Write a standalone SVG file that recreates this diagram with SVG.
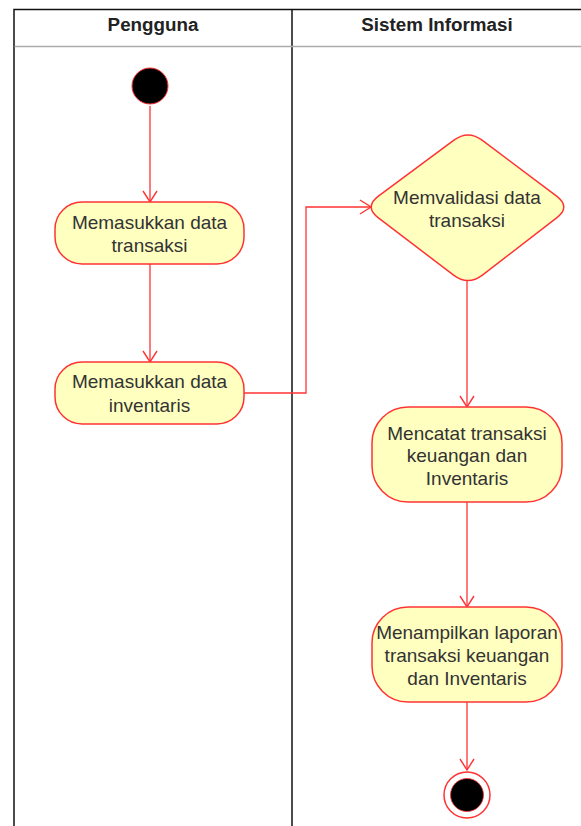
<svg xmlns="http://www.w3.org/2000/svg" width="581" height="826" viewBox="0 0 581 826">
  <style>
    .lane { fill: none; stroke: #111; stroke-width: 1.5; }
    .hdr-line { stroke: #aaa; stroke-width: 1.5; }
    .hdr { font-family: "Liberation Sans", Arial, sans-serif; font-size: 18.8px; font-weight: bold; fill: #222; text-anchor: middle; }
    .act { fill: #ffffc0; stroke: #ff3333; stroke-width: 1.5; }
    .lbl { font-family: "Liberation Sans", Arial, sans-serif; font-size: 19px; fill: #333; text-anchor: middle; }
    .edge { fill: none; stroke: #ff3333; stroke-width: 1.3; }
  </style>
  <defs>
    <marker id="open" markerUnits="userSpaceOnUse" markerWidth="16" markerHeight="18" refX="12" refY="8" orient="auto" viewBox="0 0 16 18">
      <path d="M1,1 L12,8 L1,15" fill="none" stroke="#ff3333" stroke-width="1.4"/>
    </marker>
  </defs>
  <rect width="581" height="826" fill="#ffffff"/>

  <g id="pool">
    <path class="lane" d="M14,830 L14,9.5 L585,9.5"/>
    <line class="lane" x1="292" y1="9.5" x2="292" y2="830"/>
    <line class="hdr-line" x1="14.5" y1="46.5" x2="581" y2="46.5"/>
    <text class="hdr" x="153" y="30.5">Pengguna</text>
    <text class="hdr" x="437" y="30.5">Sistem Informasi</text>
  </g>

  <g id="connectors">
    <path class="edge" d="M150,106 L150,202" marker-end="url(#open)"/>
    <path class="edge" d="M150,264 L150,362" marker-end="url(#open)"/>
    <path class="edge" d="M244,393 L306,393 L306,207 L371,207" marker-end="url(#open)"/>
    <path class="edge" d="M467,281 L467,407" marker-end="url(#open)"/>
    <path class="edge" d="M467,502 L467,607" marker-end="url(#open)"/>
    <path class="edge" d="M467,702 L467,770" marker-end="url(#open)"/>
  </g>

  <g id="start">
    <circle cx="150" cy="86" r="18" fill="#000" stroke="#ff3333" stroke-width="1"/>
  </g>

  <g id="memasukkan-transaksi">
    <rect class="act" x="55" y="202" width="189" height="62" rx="27" ry="27"/>
    <text class="lbl" x="149.5" y="228.5">Memasukkan data</text>
    <text class="lbl" x="149.5" y="252">transaksi</text>
  </g>

  <g id="memasukkan-inventaris">
    <rect class="act" x="55" y="362" width="189" height="62" rx="27" ry="27"/>
    <text class="lbl" x="149.5" y="388">Memasukkan data</text>
    <text class="lbl" x="149.5" y="411.5">inventaris</text>
  </g>

  <g id="memvalidasi">
    <path class="act" d="M378.4,196.2 L453.6,140.3 Q468,129.5 482.4,140.3 L556.6,196.2 Q571,207 556.6,217.8 L482.4,275.2 Q468,286 453.6,275.2 L378.4,217.8 Q364,207 378.4,196.2 Z"/>
    <text class="lbl" x="467" y="203.5">Memvalidasi data</text>
    <text class="lbl" x="467" y="227">transaksi</text>
  </g>

  <g id="mencatat">
    <rect class="act" x="372" y="407" width="190" height="95" rx="36" ry="36"/>
    <text class="lbl" x="467" y="440">Mencatat transaksi</text>
    <text class="lbl" x="467" y="462">keuangan dan</text>
    <text class="lbl" x="467" y="484.5">Inventaris</text>
  </g>

  <g id="menampilkan">
    <rect class="act" x="372" y="607" width="190" height="95" rx="36" ry="36"/>
    <text class="lbl" x="467" y="639">Menampilkan laporan</text>
    <text class="lbl" x="467" y="662">transaksi keuangan</text>
    <text class="lbl" x="467" y="685">dan Inventaris</text>
  </g>

  <g id="end">
    <circle cx="467" cy="795" r="23" fill="#ffffff" stroke="#ff3333" stroke-width="1.5"/>
    <circle cx="467" cy="795" r="16.5" fill="#000" stroke="#ff3333" stroke-width="0.8"/>
  </g>
</svg>
